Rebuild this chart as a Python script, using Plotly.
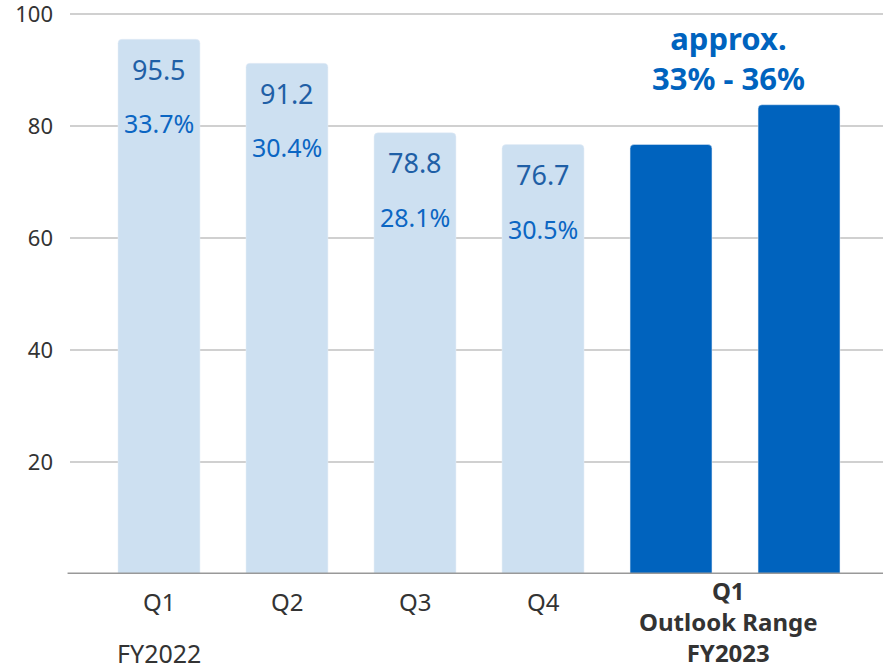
import plotly.graph_objects as go

categories = ["Q1", "Q2", "Q3", "Q4"]
fy2022_values = [95.5, 91.2, 78.8, 76.7]
fy2022_pct = ["33.7%", "30.4%", "28.1%", "30.5%"]
outlook_values = [76.7, 83.8]
outlook_label = "approx.<br>33% - 36%"
outlook_axis_label = "<b>Q1<br>Outlook Range<br>FY2023</b>"
year_label = "FY2022"
y_ticks = [20, 40, 60, 80, 100]

LIGHT = "#cde0f1"
DARK = "#0063be"
TXT = "#333333"
FONT = "Noto Sans"

x_hist = list(range(len(categories)))
x_out = [len(categories) + i for i in range(len(outlook_values))]
x_mid_out = sum(x_out) / len(x_out) - 0.05

fig = go.Figure()
fig.add_trace(go.Bar(x=x_hist, y=fy2022_values, marker_color=LIGHT, width=0.64,
                     hoverinfo="skip"))
fig.add_trace(go.Bar(x=x_out, y=outlook_values, marker_color=DARK, width=0.64,
                     hoverinfo="skip"))

ann = []
for x, v, p in zip(x_hist, fy2022_values, fy2022_pct):
    ann.append(dict(x=x, y=v, yshift=-30, text=f"{v}", showarrow=False,
                    font=dict(size=27, color="#1f5fa6", family=FONT)))
    ann.append(dict(x=x, y=v, yshift=-84, text=p, showarrow=False,
                    font=dict(size=25, color="#0b66c3", family=FONT)))
    ann.append(dict(x=x, yref="paper", y=-0.0474, text=categories[x], showarrow=False,
                    yanchor="middle",
                    font=dict(size=24, color=TXT, family=FONT)))
ann.append(dict(x=0, yref="paper", y=-0.1386, text=year_label, showarrow=False,
                yanchor="middle",
                font=dict(size=25, color=TXT, family=FONT)))
ann.append(dict(x=x_mid_out, yref="paper", y=-0.0842, text=outlook_axis_label,
                showarrow=False, yanchor="middle",
                font=dict(size=24, color=TXT, family=FONT)))
ann.append(dict(x=x_mid_out, y=max(outlook_values), yshift=47, yanchor="middle",
                text=f"<b>{outlook_label}</b>", showarrow=False,
                font=dict(size=31, color=DARK, family=FONT)))

fig.update_layout(
    width=883, height=670,
    margin=dict(l=70, r=0, t=4, b=96, autoexpand=False),
    plot_bgcolor="white", paper_bgcolor="white",
    showlegend=False,
    barcornerradius=4,
    annotations=ann,
    font=dict(family=FONT, color=TXT),
    xaxis=dict(range=[-0.695, 5.656], showticklabels=False, showgrid=False,
               zeroline=False, showline=False, fixedrange=True, automargin=False),
    yaxis=dict(range=[0, 101.79], tickvals=y_ticks, showgrid=True,
               gridcolor="#d0d0d0", gridwidth=2, zeroline=False, automargin=False,
               ticks="", ticklabelstandoff=16, ticklabeloverflow="allow",
               tickfont=dict(size=22, color=TXT, family=FONT)),
    shapes=[dict(type="line", xref="paper", yref="y", x0=-0.003, x1=1, y0=0, y1=0,
                 line=dict(color="#999999", width=3), layer="above")],
)

fig.write_html("out.html",
               config={"displayModeBar": False, "staticPlot": True},
               post_script="document.body.style.margin='0';document.body.style.overflow='hidden';")
